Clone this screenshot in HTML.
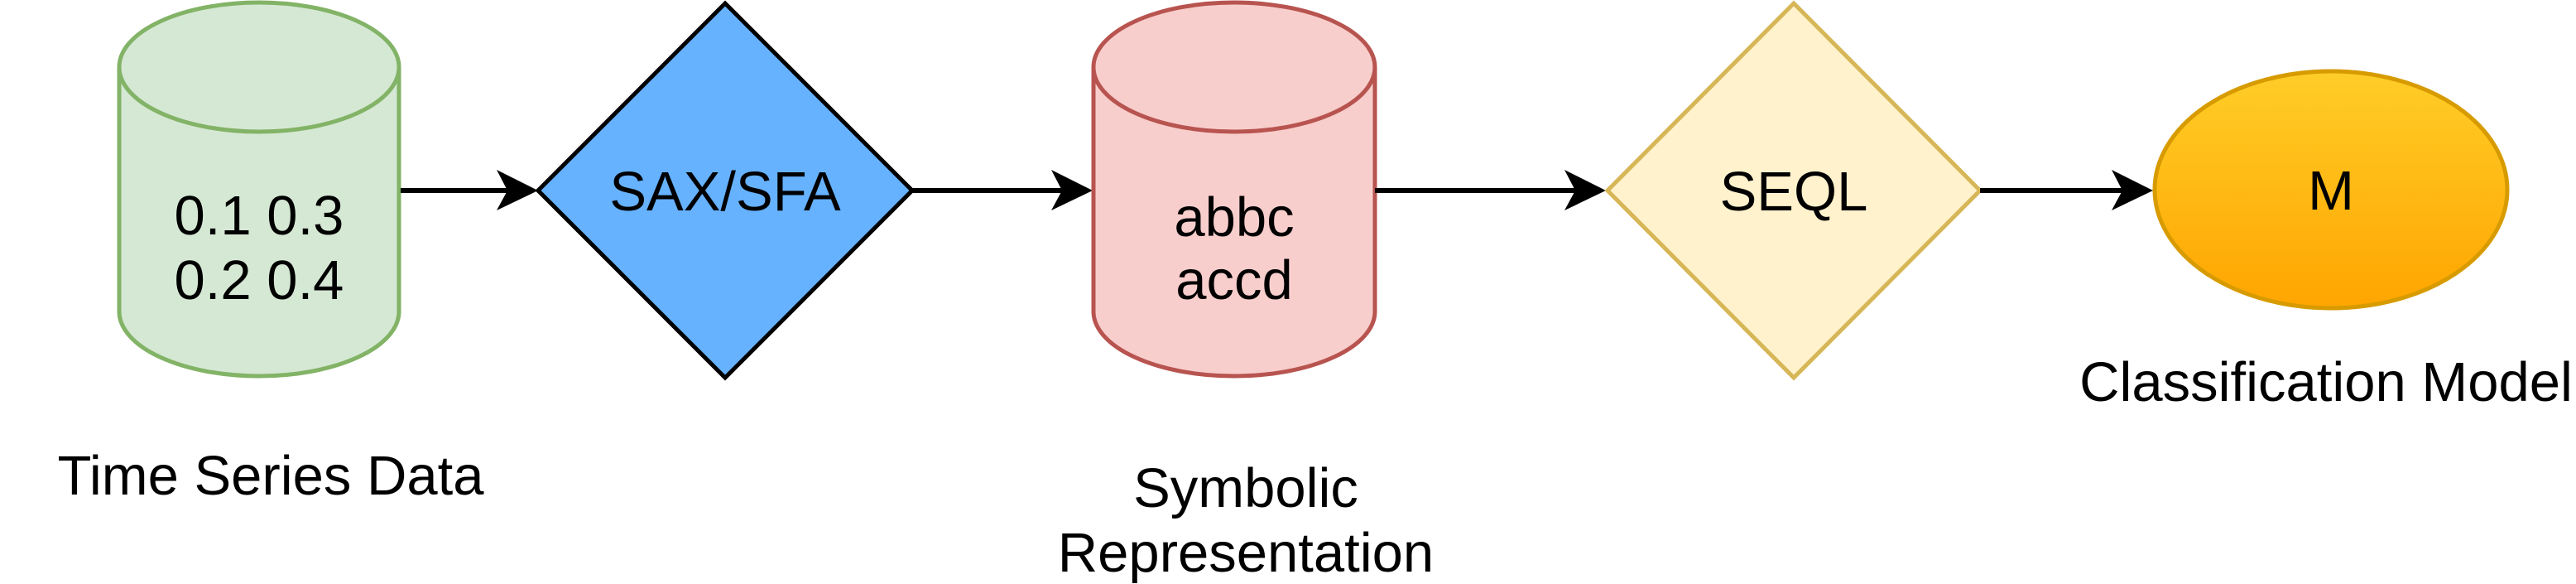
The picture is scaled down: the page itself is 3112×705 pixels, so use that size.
<!DOCTYPE html>
<html><head><meta charset="utf-8"><style>
html,body{margin:0;padding:0;background:#fff;width:3112px;height:705px;overflow:hidden}
svg text{font-family:"Liberation Sans",sans-serif;font-size:67px;fill:#000}
</style></head><body>
<svg width="3112" height="705" viewBox="0 0 3112 705" xmlns="http://www.w3.org/2000/svg">
<defs>
<linearGradient id="og" x1="0" y1="0" x2="0" y2="1"><stop offset="0" stop-color="#ffcd28"/><stop offset="1" stop-color="#ffa500"/></linearGradient>
</defs>
<!-- Cylinder 1 -->
<path d="M144,81 A169,78 0 0 1 482,81 L482,376 A169,78 0 0 1 144,376 Z" fill="#d5e8d4" stroke="#82b366" stroke-width="5"/>
<path d="M144,81 A169,78 0 0 0 482,81" fill="none" stroke="#82b366" stroke-width="5"/>
<text x="313" y="283" text-anchor="middle">0.1 0.3</text>
<text x="313" y="361" text-anchor="middle">0.2 0.4</text>
<text x="327" y="597" text-anchor="middle">Time Series Data</text>
<!-- Arrow 1 -->
<line x1="484" y1="230" x2="615" y2="230" stroke="#000" stroke-width="6"/>
<path d="M650,230 L600,205 L613,230 L600,254 Z" fill="#000"/>
<!-- Diamond SAX/SFA -->
<path d="M876,4 L1102,230 L876,456 L650,230 Z" fill="#66b2ff" stroke="#000" stroke-width="5"/>
<text x="876" y="254" text-anchor="middle">SAX/SFA</text>
<!-- Arrow 2 -->
<line x1="1102" y1="230" x2="1285" y2="230" stroke="#000" stroke-width="6"/>
<path d="M1320,230 L1270,205 L1283,230 L1270,254 Z" fill="#000"/>
<!-- Cylinder 2 -->
<path d="M1321,81 A170,78 0 0 1 1661,81 L1661,376 A170,78 0 0 1 1321,376 Z" fill="#f8cecc" stroke="#b85450" stroke-width="5"/>
<path d="M1321,81 A170,78 0 0 0 1661,81" fill="none" stroke="#b85450" stroke-width="5"/>
<text x="1491" y="285" text-anchor="middle">abbc</text>
<text x="1491" y="361" text-anchor="middle">accd</text>
<text x="1505" y="612" text-anchor="middle">Symbolic</text>
<text x="1505" y="690" text-anchor="middle">Representation</text>
<!-- Arrow 3 -->
<line x1="1661" y1="230" x2="1905" y2="230" stroke="#000" stroke-width="6"/>
<path d="M1940,230 L1890,205 L1903,230 L1890,254 Z" fill="#000"/>
<!-- Diamond SEQL -->
<path d="M2167,4 L2392,230 L2167,456 L1942,230 Z" fill="#fff2cc" stroke="#d6b656" stroke-width="5"/>
<text x="2167" y="254" text-anchor="middle">SEQL</text>
<!-- Arrow 4 -->
<line x1="2392" y1="230" x2="2565" y2="230" stroke="#000" stroke-width="6"/>
<path d="M2601,230 L2551,205 L2564,230 L2551,254 Z" fill="#000"/>
<!-- Ellipse M -->
<ellipse cx="2816" cy="229" rx="213" ry="143" fill="url(#og)" stroke="#d79b00" stroke-width="5"/>
<text x="2816" y="253" text-anchor="middle">M</text>
<text x="2810" y="484" text-anchor="middle">Classification Model</text>
</svg>
</body></html>
